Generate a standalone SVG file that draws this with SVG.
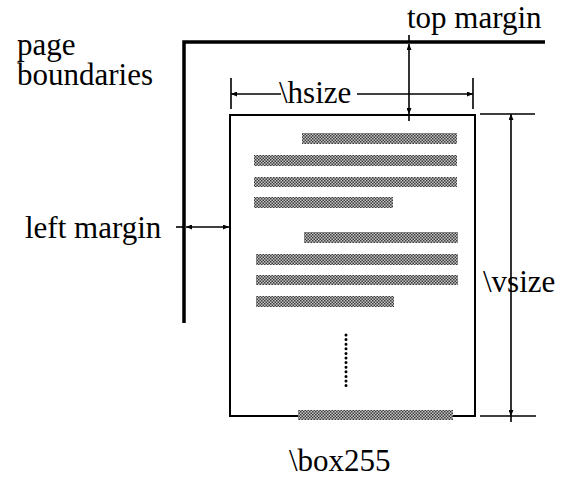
<svg xmlns="http://www.w3.org/2000/svg" width="565" height="478" viewBox="0 0 565 478">
<style>
text{font-family:"Liberation Serif","Times New Roman",serif;font-size:31px;fill:#000}
.bound{fill:none;stroke:#000;stroke-width:3.5}
.box{fill:none;stroke:#000;stroke-width:2}
.dim{fill:none;stroke:#000;stroke-width:1.6}
.arr{fill:none;stroke:#000;stroke-width:1.6;marker-start:url(#ah);marker-end:url(#ah)}
.arr1{fill:none;stroke:#000;stroke-width:1.6;marker-end:url(#ah)}
.bar{fill:url(#screen)}
</style>
<defs>
<marker id="ah" viewBox="0 0 6 5" refX="6" refY="2.5" markerWidth="6" markerHeight="5" markerUnits="userSpaceOnUse" orient="auto-start-reverse">
<path d="M0,0 L6,2.5 L0,5 z" fill="#000"/>
</marker>
<pattern id="screen" width="3" height="3" patternUnits="userSpaceOnUse">
<rect width="3" height="3" fill="#c4c4c4"/>
<rect width="1.5" height="1.5" fill="#3c3c3c"/>
<rect x="1.5" y="1.5" width="1.5" height="1.5" fill="#3c3c3c"/>
</pattern>
</defs>

<g id="page-boundaries">
<path class="bound" d="M184,323 V42 H545"/>
<text x="17" y="55">page</text>
<text x="17" y="85">boundaries</text>
</g>

<g id="box255">
<rect class="box" x="230" y="115" width="245" height="301"/>
<g id="text-lines">
<rect class="bar" x="302" y="133" width="155" height="11"/>
<rect class="bar" x="254" y="155" width="203" height="11"/>
<rect class="bar" x="254" y="177" width="203" height="10"/>
<rect class="bar" x="254" y="197" width="139" height="11"/>
<rect class="bar" x="304" y="232" width="154" height="11"/>
<rect class="bar" x="256" y="254" width="202" height="11"/>
<rect class="bar" x="256" y="275" width="202" height="10"/>
<rect class="bar" x="256" y="296" width="138" height="11"/>
<rect class="bar" x="298" y="410" width="155" height="10"/>
<path d="M346,335 V390" fill="none" stroke="#000" stroke-width="3" stroke-linecap="round" stroke-dasharray="0 4.6"/>
</g>
<text x="289" y="471">\box255</text>
</g>

<g id="connectors">
<!-- hsize -->
<path class="dim" d="M231,78 V109 M473,78 V109"/>
<path class="arr1" d="M281,94 H231"/>
<path class="arr1" d="M357,94 H473"/>
<!-- top margin -->
<path class="dim" d="M409,35 V43 M409,114 V121"/>
<path class="arr" d="M409,44 V114"/>
<!-- left margin -->
<path class="dim" d="M176,227 H185"/>
<path class="arr" d="M186,227 H229"/>
<!-- vsize -->
<path class="dim" d="M480,114 H535 M480,416 H536 M511,416 V422"/>
<path class="arr" d="M511,114 V416"/>
</g>

<g id="labels">
<text x="407" y="28">top margin</text>
<text x="279" y="103">\hsize</text>
<text x="25" y="238">left margin</text>
<text x="483" y="292">\vsize</text>
</g>
</svg>
